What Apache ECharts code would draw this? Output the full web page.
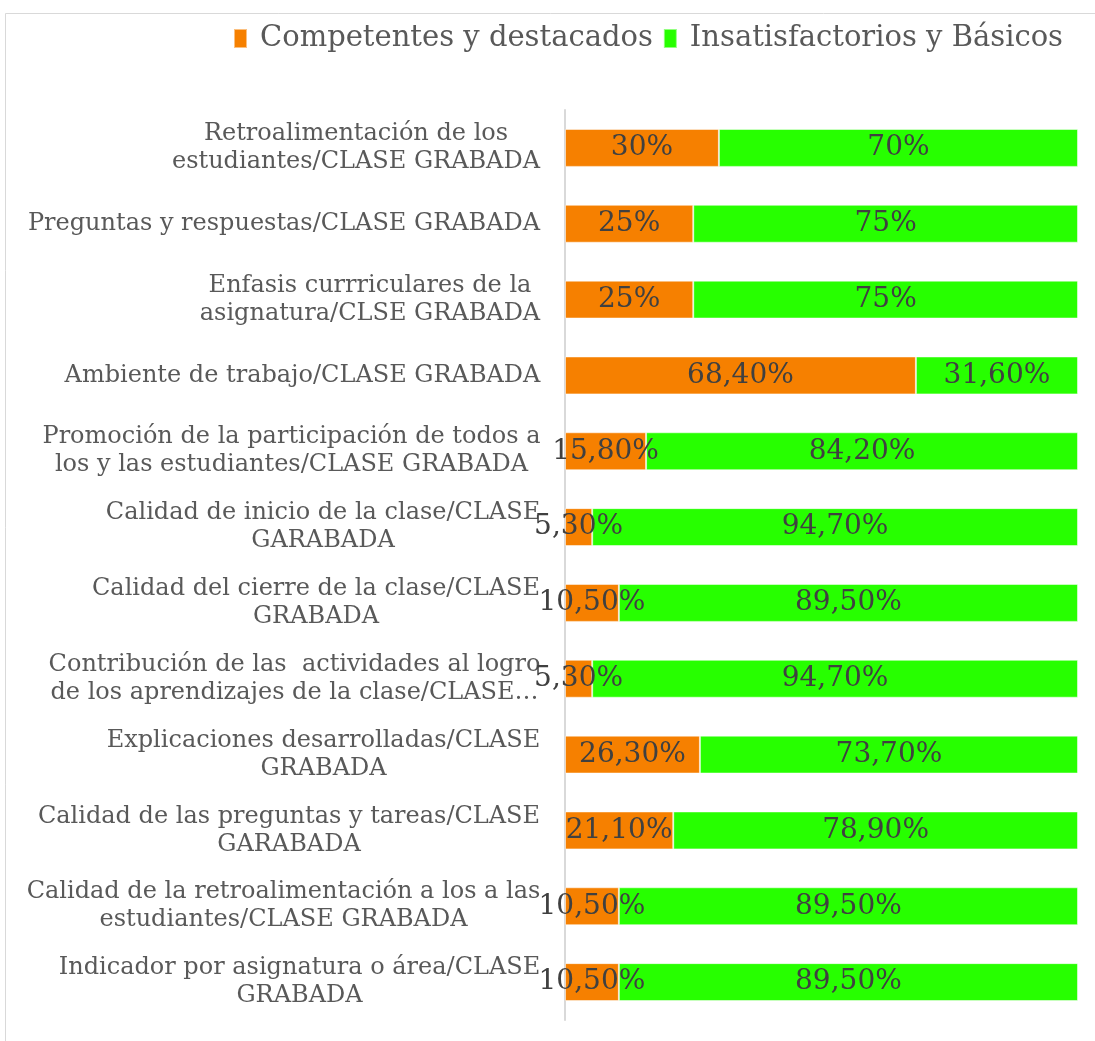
<!DOCTYPE html>
<html>
<head>
<meta charset="utf-8">
<script src="https://cdn.jsdelivr.net/npm/echarts@6/dist/echarts.min.js"></script>
<style>
  html, body { margin: 0; padding: 0; background: #fff; }
  #chart { width: 1095px; height: 1041px; }
</style>
</head>
<body>
<div id="chart"></div>
<script>
// Categories, top to bottom
const categories = [
  'Retroalimentación de los\nestudiantes/CLASE GRABADA',
  'Preguntas y respuestas/CLASE GRABADA',
  'Enfasis currriculares de la\nasignatura/CLSE GRABADA',
  'Ambiente de trabajo/CLASE GRABADA',
  'Promoción de la participación de todos a\nlos y las estudiantes/CLASE GRABADA',
  'Calidad de inicio de la clase/CLASE\nGARABADA',
  'Calidad del cierre de la clase/CLASE\nGRABADA',
  'Contribución de las  actividades al logro\nde los aprendizajes de la clase/CLASE…',
  'Explicaciones desarrolladas/CLASE\nGRABADA',
  'Calidad de las preguntas y tareas/CLASE\nGARABADA',
  'Calidad de la retroalimentación a los a las\nestudiantes/CLASE GRABADA',
  'Indicador por asignatura o área/CLASE\nGRABADA'
];
const seriesNames = ['Competentes y destacados', 'Insatisfactorios y Básicos'];
const competentes = [30, 25, 25, 68.4, 15.8, 5.3, 10.5, 5.3, 26.3, 21.1, 10.5, 10.5];
const insatisfactorios = [70, 75, 75, 31.6, 84.2, 94.7, 89.5, 94.7, 73.7, 78.9, 89.5, 89.5];

const FONT = '"DejaVu Serif", serif';
const LABEL_SIZE = 24;
const TEXT_GREY = '#595959';

// Measure each category's widest line so its lines can be centred on each other
// while the whole block stays right-aligned against the axis.
const ctx = document.createElement('canvas').getContext('2d');
ctx.font = LABEL_SIZE + 'px ' + FONT;
const rich = {};
categories.forEach((c, i) => {
  const w = Math.max(...c.split('\n').map(l => ctx.measureText(l).width));
  rich['c' + i] = {
    width: Math.ceil(w) + 1,
    align: 'center',
    fontFamily: FONT,
    fontSize: LABEL_SIZE,
    lineHeight: 28,
    color: TEXT_GREY
  };
});

function pct(v) {
  return Number.isInteger(v) ? v + '%' : v.toFixed(2).replace('.', ',') + '%';
}

const barLabel = {
  show: true,
  position: 'inside',
  formatter: p => pct(p.value),
  fontFamily: FONT,
  fontSize: 28,
  color: '#404040'
};

const chart = echarts.init(document.getElementById('chart'), null, { renderer: 'canvas' });
chart.setOption({
  animation: false,
  backgroundColor: '#fff',
  graphic: [{
    type: 'rect',
    silent: true,
    shape: { x: 5.5, y: 13.5, width: 1200, height: 1200 },
    style: { fill: 'none', stroke: '#d9d9d9', lineWidth: 1 }
  }],
  legend: {
    top: 19,
    right: 27,
    itemWidth: 13,
    itemHeight: 19,
    itemGap: 10,
    icon: 'rect',
    textStyle: { fontFamily: FONT, fontSize: 29, color: TEXT_GREY, padding: [0, 0, 0, 8] }
  },
  grid: { left: 565, right: 17, top: 110, bottom: 21, containLabel: false },
  xAxis: {
    type: 'value',
    min: 0,
    max: 100,
    show: false
  },
  yAxis: {
    type: 'category',
    inverse: true,
    data: categories,
    axisLine: { show: true, lineStyle: { color: '#d9d9d9', width: 2 } },
    axisTick: { show: false },
    axisLabel: {
      margin: 24,
      align: 'right',
      formatter: (value, index) => value.split('\n').map(l => '{c' + index + '|' + l + '}').join('\n'),
      rich: rich
    }
  },
  series: [
    {
      name: seriesNames[0],
      type: 'bar',
      stack: 'total',
      barWidth: '50%',
      data: competentes,
      itemStyle: { color: '#F68000', borderColor: 'rgba(255,255,255,0.5)', borderWidth: 1 },
      label: barLabel
    },
    {
      name: seriesNames[1],
      type: 'bar',
      stack: 'total',
      barWidth: '50%',
      data: insatisfactorios,
      itemStyle: { color: '#27FF00', borderColor: 'rgba(255,255,255,0.5)', borderWidth: 1 },
      label: barLabel
    }
  ]
});
</script>
</body>
</html>
